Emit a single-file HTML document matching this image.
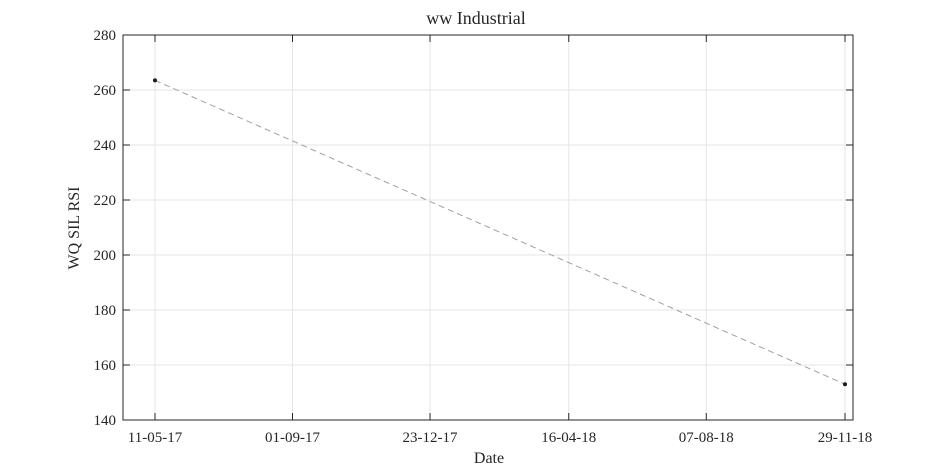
<!DOCTYPE html>
<html><head><meta charset="utf-8">
<style>
html,body{margin:0;padding:0;background:#fff;width:945px;height:472px;overflow:hidden}
text{font-family:"Liberation Serif",serif;fill:#262626}
</style></head>
<body>
<svg id="chart" width="945" height="472" xmlns="http://www.w3.org/2000/svg">
<rect width="945" height="472" fill="#fff"/>
<g id="grid"></g>
<g id="axes"></g>
<g id="series"></g>
<text x="476" y="24" text-anchor="middle" font-size="18">ww Industrial</text>
<text x="489" y="463" text-anchor="middle" font-size="16">Date</text>
<text transform="translate(79,228) rotate(-90)" text-anchor="middle" font-size="16">WQ SIL RSI</text>
</svg>
<script>
const dates = ["2017-05-11","2018-11-29"];
const values = [263.5, 153];
const xTickLabels = ["11-05-17","01-09-17","23-12-17","16-04-18","07-08-18","29-11-18"];
const xTickDates = ["2017-05-11","2017-09-01","2017-12-23","2018-04-16","2018-08-07","2018-11-29"];
const yTicks = [140,160,180,200,220,240,260,280];

const L=123,R=853,T=35,B=420;
const day=s=>Date.parse(s+"T00:00:00Z")/86400000;
const x0=day("2017-05-11"), x1=day("2018-11-29");
const pxPerDay=(845-155)/(x1-x0);
const xMin=x0-(155-L)/pxPerDay, xMax=x1+(R-845)/pxPerDay;
const X=d=>L+(day(d)-xMin)/(xMax-xMin)*(R-L);
const Y=v=>B-(v-140)/(280-140)*(B-T);
const NS="http://www.w3.org/2000/svg";
function mk(tag,attrs,parent){const e=document.createElementNS(NS,tag);for(const k in attrs)e.setAttribute(k,attrs[k]);parent.appendChild(e);return e;}
const grid=document.getElementById('grid'),axes=document.getElementById('axes'),series=document.getElementById('series');

xTickDates.forEach((d,i)=>{
  const x=X(d);
  const g=mk('line',{x1:x,x2:x,y1:T,y2:B,stroke:'#e6e6e6','stroke-width':1},grid);
  
  
  mk('line',{x1:x,x2:x,y1:B,y2:B-7,stroke:'#262626'},axes);
  mk('line',{x1:x,x2:x,y1:T,y2:T+7,stroke:'#262626'},axes);
  const t=mk('text',{x:x,y:B+22,'text-anchor':'middle','font-size':15},axes);
  t.textContent=xTickLabels[i];
  
  
});
yTicks.forEach(v=>{
  const y=Y(v);
  const g=mk('line',{x1:L,x2:R,y1:y,y2:y,stroke:'#e6e6e6','stroke-width':1},grid);
  
  
  mk('line',{x1:L,x2:L+7,y1:y,y2:y,stroke:'#262626'},axes);
  mk('line',{x1:R,x2:R-7,y1:y,y2:y,stroke:'#262626'},axes);
  const t=mk('text',{x:L-7,y:y+5,'text-anchor':'end','font-size':15},axes);
  t.textContent=v;
  
  
});
const box=mk('rect',{x:L,y:T,width:R-L,height:B-T,fill:'none',stroke:'#262626','stroke-width':1},axes);



const pts=dates.map((d,i)=>X(d)+','+Y(values[i])).join(' ');
const line=mk('polyline',{points:pts,fill:'none',stroke:'#a0a0a0','stroke-width':1,'stroke-dasharray':'6,4'},series);


dates.forEach((d,i)=>{
  const c=mk('circle',{cx:X(d),cy:Y(values[i]),r:2,fill:'#1a1a1a'},series);
  
  
});
</script>
</body></html>
